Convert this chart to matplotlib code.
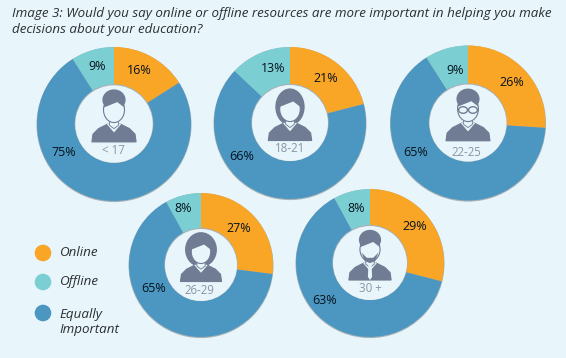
import matplotlib
matplotlib.use('Agg')

import matplotlib.pyplot as plt
from matplotlib.patches import Circle, Ellipse, Polygon

H = 358
BG = '#e8f5fa'
ICON = '#6f7c94'

#-- data --#
labels = ['Online', 'Equally Important', 'Offline']
colors = ['#f9a526', '#4b97c2', '#7bcfd3']
ages = ['< 17', '18-21', '22-25', '26-29', '30 +']
online = [16, 21, 26, 27, 29]
equally = [75, 66, 65, 65, 63]
offline = [9, 13, 9, 8, 8]

#-- layout in picture pixels: cx, cy, outer r, inner r --#
donuts = [(114, 124, 77, 38.7), (290, 123, 76, 38), (468, 123, 77.5, 38.5),
          (201, 265, 72, 36), (370, 263, 74, 37)]
online_pos = [(139, 71), (326, 79), (512, 82), (239, 229), (415, 227)]
equally_pos = [(64, 153), (242, 157), (416, 152), (154, 288), (325, 300)]
offline_pos = [(97, 66), (273, 68), (455, 71), (183, 209), (356, 209)]
age_pos = [(113, 150), (290, 148), (466, 153), (199, 290), (370, 289)]

fig = plt.figure(figsize=(5.66, 3.58), dpi=100, facecolor=BG)
ax = fig.add_axes([0, 0, 1, 1])
plt.rcParams['font.family'] = ['Open Sans', 'DejaVu Sans']


def person(cx, cy, s, kind):
    # small bust icon, offsets in px from the donut centre, y pointing down
    def xy(x, y):
        return (cx + x * s, H - (cy + y * s))
    # shoulders
    ax.add_patch(Polygon([xy(-20, 18), xy(-19, 11), xy(-14, 6), xy(-6, 2), xy(6, 2),
                          xy(14, 6), xy(19, 11), xy(20, 18)], closed=True,
                         fc=ICON, ec=ICON, lw=0.8, zorder=6))
    ax.add_patch(Polygon([xy(-6, 2), xy(0, 9), xy(6, 2)], closed=True, fc=BG, ec=BG, lw=0.5, zorder=7))
    if kind in ('long', 'curly'):
        w = 31 if kind == 'curly' else 27
        ax.add_patch(Ellipse(xy(0, -13), w * s, 34 * s, fc=ICON, ec='none', zorder=6))
    else:
        ax.add_patch(Ellipse(xy(0, -20), 21 * s, 19 * s, fc=ICON, ec='none', zorder=6))
    # neck and face
    ax.add_patch(Polygon([xy(-4, -6), xy(4, -6), xy(4, 3), xy(0, 6), xy(-4, 3)], closed=True,
                         fc=BG, ec=ICON, lw=0.6, zorder=7))
    ax.add_patch(Ellipse(xy(0, -11), 19 * s, 23 * s, fc=BG, ec=ICON, lw=0.8, zorder=8))
    ax.add_patch(Polygon([xy(-9.5, -13), xy(-7, -22), xy(2, -25), xy(8, -20), xy(9.5, -13), xy(3, -18)],
                         closed=True, fc=ICON, ec='none', zorder=9))
    if kind == 'glasses':
        ax.add_patch(Ellipse(xy(-4.5, -10), 8 * s, 6 * s, fc='none', ec=ICON, lw=1, zorder=10))
        ax.add_patch(Ellipse(xy(4.5, -10), 8 * s, 6 * s, fc='none', ec=ICON, lw=1, zorder=10))
    if kind == 'suit':
        ax.add_patch(Polygon([xy(-8, -8), xy(-3, -3), xy(3, -3), xy(8, -8), xy(5, 0), xy(0, 2), xy(-5, 0)],
                             closed=True, fc=ICON, ec='none', zorder=10))
        ax.add_patch(Polygon([xy(-1.5, 4), xy(1.5, 4), xy(2, 15), xy(0, 18), xy(-2, 15)], closed=True,
                             fc=BG, ec='none', zorder=10))


kinds = ['short', 'long', 'glasses', 'curly', 'suit']
for i in range(len(ages)):
    cx, cy, r, ri = donuts[i]
    y = H - cy
    # faint grey rim under each ring
    ax.add_patch(Circle((cx, y - 0.6), r + 0.5, fc='#a8b2b6', ec='none', zorder=1))
    ax.pie([online[i], equally[i], offline[i]], colors=colors, startangle=90, counterclock=False,
           center=(cx, y), radius=r, frame=True,
           wedgeprops={'width': r - ri, 'edgecolor': 'none', 'zorder': 2})
    ax.add_patch(Circle((cx, y + 0.5), ri + 0.6, fc='#a8b2b6', ec='none', zorder=3))
    ax.add_patch(Circle((cx, y), ri, fc=BG, ec='none', zorder=4))
    person(cx, cy - 2, 1.1 * ri / 38.5, kinds[i])
    for val, pos in ((online[i], online_pos[i]), (equally[i], equally_pos[i]), (offline[i], offline_pos[i])):
        ax.text(pos[0], H - pos[1], str(val) + '%', fontsize=9, color='#06121c',
                ha='center', va='center', zorder=12)
    ax.text(age_pos[i][0], H - age_pos[i][1], ages[i], fontsize=8.3, color='#8b94a6',
            ha='center', va='center', zorder=12)

#-- legend --#
legend_y = [253, 282, 313]
legend_txt = ['Online', 'Offline', 'Equally\nImportant']
legend_col = [colors[0], colors[2], colors[1]]
for i in range(3):
    ax.add_patch(Circle((43, H - legend_y[i]), 8.3, fc=legend_col[i], ec='none', zorder=5))
ax.text(59, H - 252, legend_txt[0], fontsize=9.6, style='italic', color='#2a2f33', va='center')
ax.text(59, H - 282, legend_txt[1], fontsize=9.6, style='italic', color='#2a2f33', va='center')
ax.text(59, H - 322, legend_txt[2], fontsize=9.6, style='italic', color='#2a2f33', va='center', linespacing=1.2)

#-- title --#
ax.text(12, H - 14, 'Image 3: Would you say online or offline resources are more important in helping you make',
        fontsize=9.6, style='italic', color='#2a2f33', va='center')
ax.text(12, H - 30, 'decisions about your education?',
        fontsize=9.6, style='italic', color='#2a2f33', va='center')

ax.set_xlim(0, 566)
ax.set_ylim(0, H)
ax.set_aspect('auto')
ax.axis('off')

plt.savefig('out.png', dpi=100, facecolor=BG)
